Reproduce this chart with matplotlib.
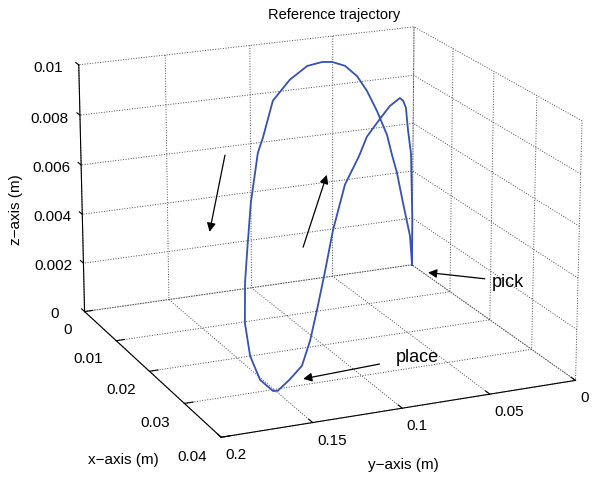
import matplotlib
matplotlib.use("Agg")
import matplotlib.pyplot as plt

plt.rcParams["font.family"] = ["Liberation Sans", "DejaVu Sans"]
plt.rcParams["grid.linestyle"] = ":"
plt.rcParams["grid.color"] = "0.3"
plt.rcParams["grid.linewidth"] = 0.7

# trajectory (metres): pick -> lift -> arc to place -> big arc back to pick
x_path = [0.0, 0.0, 0.0005, 0.0013, 0.0018, 0.0026, 0.0033, 0.0057, 0.0081, 0.0111, 0.0130, 0.0161,
          0.0188, 0.0205, 0.0223, 0.0238, 0.0255, 0.0280, 0.0305,
          0.0317, 0.0323, 0.0331, 0.0324, 0.0315, 0.0305, 0.0275, 0.0228, 0.0224, 0.0138, 0.0107,
          0.0092, 0.0093, 0.0088, 0.0080, 0.0078, 0.0081, 0.0077, 0.0071, 0.0067, 0.0056, 0.0047,
          0.0026, 0.0023, 0.0]
y_path = [0.0, 0.0, 0.0024, 0.0063, 0.0089, 0.0126, 0.0162, 0.0280, 0.0396, 0.0543, 0.0632, 0.0786,
          0.0916, 0.1001, 0.1086, 0.1160, 0.1244, 0.1368, 0.1489,
          0.1541, 0.1626, 0.1697, 0.1710, 0.1689, 0.1656, 0.1571, 0.1432, 0.1395, 0.1156, 0.0991,
          0.0856, 0.0770, 0.0699, 0.0605, 0.0527, 0.0475, 0.0405, 0.0329, 0.0288, 0.0231, 0.0171,
          0.0076, 0.0055, 0.0]
z_path = [0.0, 0.0019, 0.0048, 0.0059, 0.0069, 0.0073, 0.0075, 0.0075, 0.0073, 0.0070, 0.0065, 0.0058,
          0.0044, 0.0030, 0.0018, 0.0008, 0.0001, 0.0, 0.0,
          0.0002, 0.0008, 0.0019, 0.0031, 0.0045, 0.0055, 0.0070, 0.0083, 0.0088, 0.0092, 0.0096,
          0.0099, 0.0100, 0.0099, 0.0096, 0.0091, 0.0085, 0.0076, 0.0065, 0.0056, 0.0047, 0.0033,
          0.0016, 0.0004, 0.0]

x_ticks = [0, 0.01, 0.02, 0.03, 0.04]
y_ticks = [0, 0.05, 0.1, 0.15, 0.2]
z_ticks = [0, 0.002, 0.004, 0.006, 0.008, 0.01]
x_labels = ["0", "0.01", "0.02", "0.03", "0.04"]
y_labels = ["0", "0.05", "0.1", "0.15", "0.2"]
z_labels = ["0", "0.002", "0.004", "0.006", "0.008", "0.01"]

fig = plt.figure(figsize=(5.92, 4.79), dpi=100)
ax = fig.add_axes([0.035, 0.027, 1.0, 1.0], projection="3d", proj_type="persp", focal_length=1.3)
ax.view_init(elev=18.2, azim=-23.5)
ax.set_box_aspect((377, 371, 263), zoom=1.212)

ax.plot(x_path, y_path, z_path, color="#3651b4", linewidth=1.3)

ax.set_xlim(0, 0.04)
ax.set_ylim(0.2, 0)
ax.set_zlim(0, 0.01)
ax.set_xticks(x_ticks, x_labels)
ax.set_yticks(y_ticks, y_labels)
ax.set_zticks(z_ticks, z_labels)
ax.tick_params(labelsize=11)
ax.tick_params(axis="x", pad=-1)
ax.tick_params(axis="y", pad=-3)
ax.zaxis.set_ticks_position("upper")
# MATLAB puts the x labels left of their ticks and the y labels right of them
plt.setp(ax.get_xticklabels(), ha="right")
plt.setp(ax.get_yticklabels(), ha="left")

for axis in (ax.xaxis, ax.yaxis, ax.zaxis):
    axis.pane.fill = False
    axis.pane.set_edgecolor("none")
    axis.line.set_color("black")
    axis.line.set_linewidth(0.8)
    axis._axinfo["tick"]["inward_factor"] = 0.0
    axis._axinfo["tick"]["outward_factor"] = 0.3

# axis names and title, placed like the MATLAB figure
fig.text(0.564, 0.969, "Reference trajectory", fontsize=10.5, ha="center", va="center")
fig.text(0.209, 0.040, "x\u2212axis (m)", fontsize=11, ha="center", va="center")
fig.text(0.682, 0.030, "y\u2212axis (m)", fontsize=11, ha="center", va="center")
fig.text(0.027, 0.562, "z\u2212axis (m)", fontsize=11, ha="center", va="center", rotation=90)

# annotations
arrow = dict(arrowstyle="-|>", color="black", lw=0.9, mutation_scale=13, shrinkA=0, shrinkB=0)
fig.text(0.831, 0.411, "pick", fontsize=13, ha="left", va="center")
ax.annotate("", xy=(0.723, 0.431), xytext=(0.819, 0.418), xycoords="figure fraction",
            textcoords="figure fraction", arrowprops=arrow)
fig.text(0.668, 0.253, "place", fontsize=13, ha="left", va="center")
ax.annotate("", xy=(0.512, 0.209), xytext=(0.641, 0.240), xycoords="figure fraction",
            textcoords="figure fraction", arrowprops=arrow)
ax.annotate("", xy=(0.354, 0.516), xytext=(0.380, 0.676), xycoords="figure fraction",
            textcoords="figure fraction", arrowprops=arrow)
ax.annotate("", xy=(0.552, 0.635), xytext=(0.512, 0.484), xycoords="figure fraction",
            textcoords="figure fraction", arrowprops=arrow)

fig.savefig("out.png", dpi=100)
